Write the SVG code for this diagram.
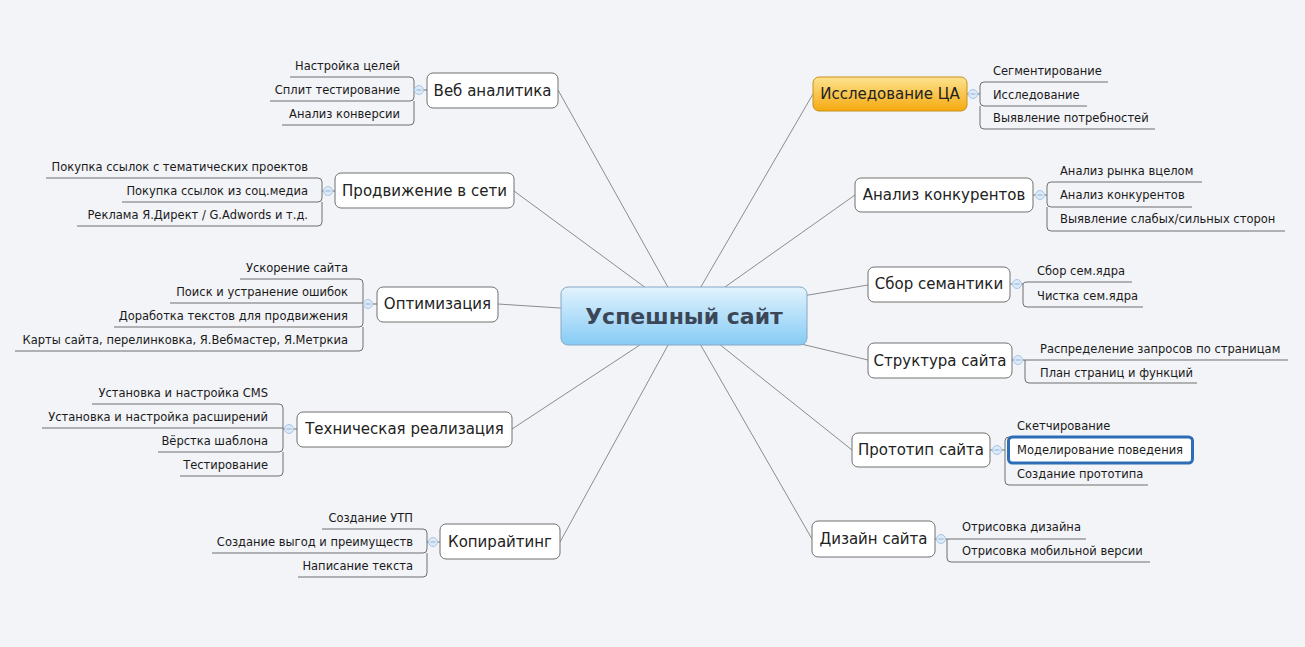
<svg xmlns="http://www.w3.org/2000/svg" width="1305" height="647" viewBox="0 0 1305 647">
<defs>
<linearGradient id="gC" x1="0" y1="0" x2="0" y2="1"><stop offset="0" stop-color="#e2f3fd"/><stop offset="1" stop-color="#86cbf5"/></linearGradient>
<linearGradient id="gO" x1="0" y1="0" x2="0" y2="1"><stop offset="0" stop-color="#fde38f"/><stop offset="1" stop-color="#f5a90f"/></linearGradient>
<style>
.conn{stroke:#8c8c8c;stroke-width:1;fill:none}
.br{stroke:#6e6e6e;stroke-width:1;fill:none}
.box{fill:#fff;stroke:#707070;stroke-width:1}
.tt{font-family:"DejaVu Sans",Verdana,sans-serif;font-size:15px;fill:#222;text-anchor:middle}
.st{font-family:"DejaVu Sans",Verdana,sans-serif;font-size:11.5px;fill:#1a1a1a}
.l{text-anchor:end}
.r{text-anchor:start}
.cc{fill:#dce9f7;stroke:#a8c6e6;stroke-width:1}
.cm{stroke:#8fb3da;stroke-width:1}
</style>
</defs>
<rect width="1305" height="647" fill="#f3f4f8"/>
<g id="connectors">
<line class="conn" x1="684" y1="316" x2="558" y2="90"/>
<line class="conn" x1="684" y1="316" x2="514" y2="191"/>
<line class="conn" x1="684" y1="316" x2="498" y2="304"/>
<line class="conn" x1="684" y1="316" x2="512" y2="429"/>
<line class="conn" x1="684" y1="316" x2="560" y2="542"/>
<line class="conn" x1="684" y1="316" x2="813" y2="94"/>
<line class="conn" x1="684" y1="316" x2="855" y2="195"/>
<line class="conn" x1="684" y1="316" x2="868" y2="285"/>
<line class="conn" x1="684" y1="316" x2="868" y2="360"/>
<line class="conn" x1="684" y1="316" x2="852" y2="450"/>
<line class="conn" x1="684" y1="316" x2="812" y2="539"/>
</g>
<g id="center">
<rect x="561" y="287" width="246" height="58" rx="7" fill="url(#gC)" stroke="#86a8c4"/>
<text x="684" y="324" font-family="'DejaVu Sans',Verdana,sans-serif" font-size="22" font-weight="bold" fill="#3b4756" text-anchor="middle">Успешный сайт</text>
</g>
<g id="web">
<path class="br" d="M427 90H414V81Q414 77 410 77H290M414 90V97Q414 101 410 101H270M414 101V121Q414 125 410 125H282"/>
<circle class="cc" cx="419" cy="90" r="4.5"/><line class="cm" x1="416.5" y1="90" x2="421.5" y2="90"/>
<rect class="box" x="427" y="73" width="131" height="35" rx="6"/>
<text class="tt" x="492.5" y="96">Веб аналитика</text>
<text class="st l" x="400" y="70">Настройка целей</text>
<text class="st l" x="400" y="94">Сплит тестирование</text>
<text class="st l" x="400" y="118">Анализ конверсии</text>
</g>
<g id="promo">
<path class="br" d="M335 191H322V182Q322 178 318 178H46M322 191V198Q322 202 318 202H122M322 202V222Q322 226 318 226H77"/>
<circle class="cc" cx="328" cy="191" r="4.5"/><line class="cm" x1="325.5" y1="191" x2="330.5" y2="191"/>
<rect class="box" x="335" y="173" width="179" height="35" rx="6"/>
<text class="tt" x="424.5" y="196">Продвижение в сети</text>
<text class="st l" x="308" y="171">Покупка ссылок с тематических проектов</text>
<text class="st l" x="308" y="195">Покупка ссылок из соц.медиа</text>
<text class="st l" x="308" y="219">Реклама Я.Директ / G.Adwords и т.д.</text>
</g>
<g id="optim">
<path class="br" d="M377 304H363V283Q363 279 359 279H240M363 303H170M363 304V323Q363 327 359 327H114M363 327V347Q363 351 359 351H15"/>
<circle class="cc" cx="368" cy="304" r="4.5"/><line class="cm" x1="365.5" y1="304" x2="370.5" y2="304"/>
<rect class="box" x="377" y="287" width="121" height="35" rx="6"/>
<text class="tt" x="437.5" y="309">Оптимизация</text>
<text class="st l" x="348" y="272">Ускорение сайта</text>
<text class="st l" x="348" y="296">Поиск и устранение ошибок</text>
<text class="st l" x="348" y="320">Доработка текстов для продвижения</text>
<text class="st l" x="348" y="344">Карты сайта, перелинковка, Я.Вебмастер, Я.Метркиа</text>
</g>
<g id="tech">
<path class="br" d="M297 429H283V408Q283 404 279 404H92M283 428H42M283 429V448Q283 452 279 452H158M283 452V472Q283 476 279 476H180"/>
<circle class="cc" cx="289" cy="429" r="4.5"/><line class="cm" x1="286.5" y1="429" x2="291.5" y2="429"/>
<rect class="box" x="297" y="412" width="215" height="35" rx="6"/>
<text class="tt" x="404.5" y="434">Техническая реализация</text>
<text class="st l" x="268" y="397">Установка и настройка CMS</text>
<text class="st l" x="268" y="421">Установка и настройка расширений</text>
<text class="st l" x="268" y="445">Вёрстка шаблона</text>
<text class="st l" x="268" y="469">Тестирование</text>
</g>
<g id="copy">
<path class="br" d="M440 542H427V533Q427 529 423 529H322M427 542V549Q427 553 423 553H212M427 553V573Q427 577 423 577H298"/>
<circle class="cc" cx="433" cy="542" r="4.5"/><line class="cm" x1="430.5" y1="542" x2="435.5" y2="542"/>
<rect class="box" x="440" y="524" width="120" height="35" rx="6"/>
<text class="tt" x="500" y="547">Копирайтинг</text>
<text class="st l" x="413" y="522">Создание УТП</text>
<text class="st l" x="413" y="546">Создание выгод и преимуществ</text>
<text class="st l" x="413" y="570">Написание текста</text>
</g>
<g id="research">
<path class="br" d="M967 94H980V86Q980 82 984 82H1108M980 94V102Q980 106 984 106H1087M980 106V125Q980 129 984 129H1155"/>
<circle class="cc" cx="973" cy="94" r="4.5"/><line class="cm" x1="970.5" y1="94" x2="975.5" y2="94"/>
<rect x="813" y="77" width="154" height="34" rx="6" fill="url(#gO)" stroke="#c8901c"/>
<text class="tt" x="890" y="99" fill="#2e2410">Исследование ЦА</text>
<text class="st r" x="993" y="75">Сегментирование</text>
<text class="st r" x="993" y="99">Исследование</text>
<text class="st r" x="993" y="122">Выявление потребностей</text>
</g>
<g id="compet">
<path class="br" d="M1033 195H1047V186Q1047 182 1051 182H1202M1047 195V203Q1047 207 1051 207H1192M1047 207V227Q1047 231 1051 231H1285"/>
<circle class="cc" cx="1040" cy="195" r="4.5"/><line class="cm" x1="1037.5" y1="195" x2="1042.5" y2="195"/>
<rect class="box" x="855" y="178" width="178" height="34" rx="6"/>
<text class="tt" x="944" y="200">Анализ конкурентов</text>
<text class="st r" x="1060" y="175">Анализ рынка вцелом</text>
<text class="st r" x="1060" y="199">Анализ конкурентов</text>
<text class="st r" x="1060" y="223">Выявление слабых/сильных сторон</text>
</g>
<g id="sem">
<path class="br" d="M1010 284H1023Q1023 282 1027 282H1132M1023 284V303Q1023 307 1027 307H1143"/>
<circle class="cc" cx="1017" cy="284" r="4.5"/><line class="cm" x1="1014.5" y1="284" x2="1019.5" y2="284"/>
<rect class="box" x="868" y="267" width="142" height="35" rx="6"/>
<text class="tt" x="939" y="289">Сбор семантики</text>
<text class="st r" x="1037" y="275">Сбор сем.ядра</text>
<text class="st r" x="1037" y="300">Чистка сем.ядра</text>
</g>
<g id="struct">
<path class="br" d="M1012 360H1288M1025 360V379Q1025 383 1029 383H1197"/>
<circle class="cc" cx="1018" cy="360" r="4.5"/><line class="cm" x1="1015.5" y1="360" x2="1020.5" y2="360"/>
<rect class="box" x="868" y="343" width="144" height="35" rx="6"/>
<text class="tt" x="940" y="366">Структура сайта</text>
<text class="st r" x="1040" y="353">Распределение запросов по страницам</text>
<text class="st r" x="1040" y="377">План страниц и функций</text>
</g>
<g id="proto">
<path class="br" d="M990 450H1005V441Q1005 437 1009 437H1110M1005 450V481Q1005 485 1009 485H1148"/>
<circle class="cc" cx="997" cy="450" r="4.5"/><line class="cm" x1="994.5" y1="450" x2="999.5" y2="450"/>
<rect class="box" x="852" y="433" width="138" height="34" rx="6"/>
<text class="tt" x="921" y="455">Прототип сайта</text>
<text class="st r" x="1017" y="430">Скетчирование</text>
<rect x="1008.5" y="437" width="184" height="26" rx="4" fill="#fff" stroke="#2d6db6" stroke-width="3"/>
<text class="st r" x="1017" y="454">Моделирование поведения</text>
<text class="st r" x="1017" y="478">Создание прототипа</text>
</g>
<g id="design">
<path class="br" d="M935 539H1086M947 539V558Q947 562 951 562H1150"/>
<circle class="cc" cx="941" cy="539" r="4.5"/><line class="cm" x1="938.5" y1="539" x2="943.5" y2="539"/>
<rect class="box" x="812" y="521" width="123" height="36" rx="6"/>
<text class="tt" x="873.5" y="544">Дизайн сайта</text>
<text class="st r" x="962" y="531">Отрисовка дизайна</text>
<text class="st r" x="962" y="555">Отрисовка мобильной версии</text>
</g>
</svg>
